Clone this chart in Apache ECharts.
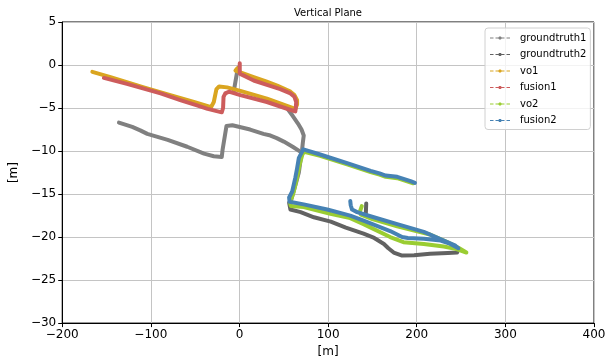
<!DOCTYPE html>
<html>
<head>
<meta charset="utf-8">
<script src="https://cdn.jsdelivr.net/npm/echarts@6/dist/echarts.min.js"></script>
<style>
  html, body { margin: 0; padding: 0; background: #fff; }
  #chart { width: 616px; height: 363px; }
</style>
</head>
<body>
<div id="chart"></div>
<script>
// 轨迹数据 [x, y]，单位 m
var gt1Left = [[-136, -6.7], [-121, -7.2], [-112, -7.6], [-104, -8.0], [-81, -8.7], [-59, -9.5], [-40, -10.3],
    [-29, -10.6], [-20, -10.7], [-19, -9.8], [-14.7, -7.1], [-8, -7.0], [12, -7.5], [27, -8.0], [35, -8.2],
    [42, -8.5], [50, -8.9], [60, -9.5], [69, -10.1]];
var gt1Start = [[-1, -0.3], [-3, -1.0], [-6.5, -3.1]];
var gt1Down = [[55, -5.2], [60, -5.9], [66, -6.8], [70, -7.5], [72.5, -8.2], [71.5, -9.0], [70.7, -9.8],
    [69, -11], [67, -12.5], [63, -14], [58, -15.8]];
var gt2Loop = [[56, -16.0], [57.5, -16.8], [69, -17.1], [84, -17.7], [103, -18.2], [120, -18.9], [140, -19.6],
    [152, -20.1], [163, -20.8], [168, -21.3], [174, -21.8], [183.5, -22.15], [197, -22.1], [215, -21.95],
    [235, -21.85], [245.5, -21.8], [247, -21.4]];
var gt2End = [[143, -16.1], [142.5, -17.4]];
var vo1 = [[-2.6, -0.4], [-4.5, -0.65], [1, -0.85], [16, -1.4], [30, -1.9], [42.5, -2.4], [57.5, -3.1], [62, -3.5],
    [65, -4.1], [65, -4.6], [63, -5.1], [57.5, -4.9], [31, -3.9], [1, -3.0], [-14, -2.6], [-23, -2.5], [-26, -2.8],
    [-29, -4.3], [-32, -4.9], [-51.5, -4.3], [-78, -3.5], [-108, -2.6], [-145.5, -1.4], [-166, -0.8]];
var fusion1 = [[0.3, 0.2], [0.3, -1.0], [16, -1.8], [31, -2.3], [46, -2.8], [57.5, -3.3], [62, -3.7], [64, -4.3],
    [63.5, -5.0], [63, -5.4], [57, -5.2], [31, -4.3], [1, -3.5], [-12, -3.1], [-16, -3.3], [-18, -3.7], [-18.5, -5.0],
    [-20, -5.5], [-22, -5.5], [-36, -5.1], [-48, -4.7], [-66, -4.1], [-89, -3.3], [-127, -2.2], [-153, -1.5]];
var vo2 = [[196, -13.75], [178, -13.15], [165, -13.0], [158, -12.75], [148, -12.45], [121.5, -11.55], [91, -10.55],
    [73, -10.1], [71, -10.4], [68, -11.5], [66, -12.5], [64, -13.5], [61, -14.8], [57, -16.0], [58, -16.4],
    [72.5, -16.5], [102.6, -17.3], [125, -17.8], [140, -18.5], [170, -20.0], [185, -20.6], [208, -20.8],
    [230.5, -21.1], [245, -21.4], [256, -21.8], [248, -21.3], [235, -20.6], [215, -19.7], [178, -18.75],
    [150, -17.9], [137, -17.4], [136, -17.0], [138, -16.4]];
var fusion2 = [[198, -13.7], [193, -13.5], [178, -13.0], [165, -12.85], [158, -12.6], [148, -12.3], [121.5, -11.4],
    [91, -10.4], [72, -9.8], [70.5, -9.9], [67, -10.8], [65, -12.0], [63, -13.1], [59.5, -14.7], [56, -15.4],
    [56.5, -15.9], [72.5, -16.2], [99, -16.8], [125, -17.5], [140, -18.1], [170, -19.3], [183.5, -20.0], [190, -20.1],
    [208, -20.2], [227, -20.4], [238, -20.8], [247, -21.3], [243.6, -21.0], [230.5, -20.4], [208, -19.4], [178, -18.5],
    [151.5, -17.7], [132.7, -17.1], [127, -16.8], [125.5, -16.3], [125, -15.8]];

var legendNames = ['groundtruth1', 'groundtruth2', 'vo1', 'fusion1', 'vo2', 'fusion2'];

var font = 'DejaVu Sans';
function minus(v) { return String(v).replace('-', '\u2212'); }

// 图例图标：虚线 + 小圆点
var legendIcon = 'path://M0,1.1h3.5v0.8h-3.5z M5.5,1.1h3v0.8h-3z M11.5,1.1h3v0.8h-3z M16.5,1.1h3.5v0.8h-3.5z ' +
    'M9.2,0h1.6l0.7,0.7v1.6l-0.7,0.7h-1.6l-0.7,-0.7v-1.6z';

function path(name, color, data) {
    return {
        name: name,
        type: 'line',
        data: data,
        symbol: 'circle',
        symbolSize: 4,
        showSymbol: false,
        silent: true,
        color: color,
        lineStyle: { color: color, width: 4, cap: 'round', join: 'round' },
        animation: false
    };
}

var chart = echarts.init(document.getElementById('chart'));

var option = {
    animation: false,
    title: {
        text: 'Vertical Plane',
        left: 328,
        top: 8,
        textAlign: 'center',
        padding: 0,
        textStyle: { fontFamily: font, fontSize: 10, fontWeight: 'normal', color: '#000' }
    },
    legend: {
        data: legendNames,
        orient: 'vertical',
        left: 485,
        top: 28,
        padding: [4, 4, 3, 5],
        itemGap: 4.5,
        itemWidth: 20,
        itemHeight: 3,
        icon: legendIcon,
        backgroundColor: 'rgba(255,255,255,0.8)',
        borderColor: '#d0d0d0',
        borderWidth: 1,
        borderRadius: 3,
        textStyle: { fontFamily: font, fontSize: 10, color: '#000', lineHeight: 12, padding: [0, 0, 0, 5] }
    },
    grid: {
        left: 62, right: 22, top: 22, bottom: 37,
        show: true, borderColor: '#000', borderWidth: 1
    },
    xAxis: {
        type: 'value',
        min: -200, max: 400, interval: 100,
        name: '[m]',
        nameLocation: 'middle',
        nameGap: 21,
        nameTextStyle: { fontFamily: font, fontSize: 12, color: '#000' },
        axisLine: { show: true, onZero: false, lineStyle: { color: '#000' } },
        axisTick: { show: true, length: 4, lineStyle: { color: '#000' } },
        axisLabel: { fontFamily: font, fontSize: 12, color: '#000', margin: 6, formatter: minus },
        splitLine: { show: true, lineStyle: { color: '#c4c4c4', width: 1 } }
    },
    yAxis: {
        type: 'value',
        min: -30, max: 5, interval: 5,
        name: '[m]',
        nameLocation: 'middle',
        nameGap: 27,
        nameTextStyle: { fontFamily: font, fontSize: 12, color: '#000' },
        axisLine: { show: true, onZero: false, lineStyle: { color: '#000' } },
        axisTick: { show: true, length: 4, lineStyle: { color: '#000' } },
        axisLabel: { fontFamily: font, fontSize: 12, color: '#000', margin: 6, formatter: minus },
        splitLine: { show: true, lineStyle: { color: '#c4c4c4', width: 1 } }
    },
    series: [
        path('groundtruth1', '#808080', gt1Left),
        path('groundtruth1', '#808080', gt1Start),
        path('groundtruth1', '#808080', gt1Down),
        path('groundtruth2', '#626262', gt2Loop),
        path('groundtruth2', '#626262', gt2End),
        path('vo1', '#daa520', vo1),
        path('fusion1', '#cd5c5c', fusion1),
        path('vo2', '#9acd32', vo2),
        path('fusion2', '#4682b4', fusion2)
    ]
};

chart.setOption(option);
</script>
</body>
</html>
